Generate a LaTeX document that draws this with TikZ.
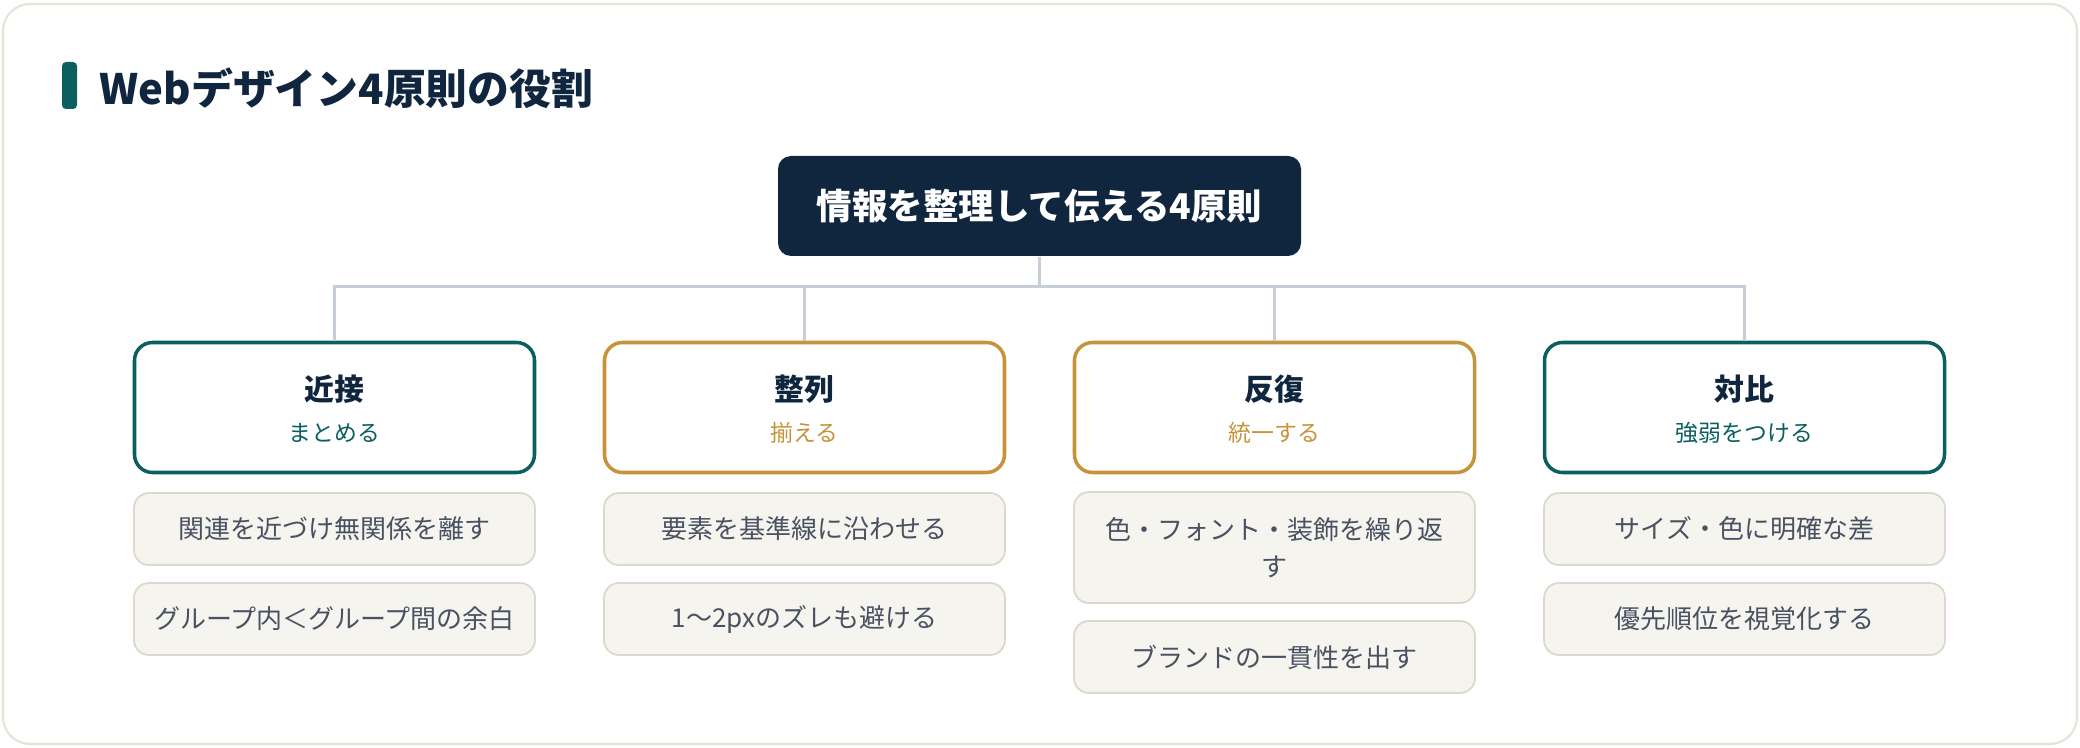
\documentclass[tikz,border=0pt]{standalone}
\usepackage{fontspec}
\setmainfont{Noto Sans CJK JP}
\usetikzlibrary{positioning}

\definecolor{navy}{HTML}{10263F}
\definecolor{tealc}{HTML}{0B5F5E}
\definecolor{gold}{HTML}{C6933A}
\definecolor{linkc}{HTML}{C8CED8}
\definecolor{cardline}{HTML}{E6E3D9}
\definecolor{detfill}{HTML}{F5F4EF}
\definecolor{detline}{HTML}{DCD8CB}
\definecolor{dettext}{HTML}{4A5262}

\begin{document}
\begin{tikzpicture}[
    card/.style={draw=cardline, line width=0.6pt, rounded corners=0.27cm, fill=white},
    root/.style={fill=navy, rounded corners=0.13cm, minimum width=5.23cm, minimum height=1cm,
                 text=white, font=\fontsize{10.1}{12}\selectfont\bfseries},
    principle/.style={draw, line width=1pt, fill=white, rounded corners=0.18cm,
                      minimum width=4.0cm, minimum height=1.3cm, inner sep=0pt},
    head/.style={text=navy, font=\fontsize{8.5}{10}\selectfont\bfseries, inner sep=0pt},
    sub/.style={font=\fontsize{6.5}{8}\selectfont, inner sep=0pt},
    detail/.style={draw=detline, line width=0.5pt, fill=detfill, rounded corners=0.15cm,
                   minimum width=4.01cm, minimum height=0.72cm, text=dettext, align=center,
                   font=\fontsize{7.4}{10.5}\selectfont},
    link/.style={draw=linkc, line width=0.85pt},
  ]
    \useasboundingbox (0,0) rectangle (20.8,-7.48);
    \draw[card] (0.03,-0.04) rectangle (20.77,-7.44);

    % title
    \node[fill=tealc, rounded corners=0.04cm, minimum width=0.15cm, minimum height=0.47cm,
          inner sep=0pt] (bar) at (0.695,-0.855) {};
    \node[anchor=west, inner sep=0pt, text=navy, font=\fontsize{11.9}{14}\selectfont\bfseries]
          (title) at (0.99,-0.88) {Webデザイン4原則の役割};

    % root
    \node[root] (root) at (10.395,-2.06) {情報を整理して伝える4原則};

    % principles
    \node[principle, draw=tealc] (p1) at (3.345,-4.075) {};
    \node[principle, draw=gold]  (p2) at (8.045,-4.075) {};
    \node[principle, draw=gold]  (p3) at (12.745,-4.075) {};
    \node[principle, draw=tealc] (p4) at (17.445,-4.075) {};

    \node[head] (h1) at ([yshift=0.185cm]p1.center) {近接};
    \node[sub, text=tealc] (s1) at ([yshift=-0.255cm]p1.center) {まとめる};
    \node[head] (h2) at ([yshift=0.185cm]p2.center) {整列};
    \node[sub, text=gold] (s2) at ([yshift=-0.255cm]p2.center) {揃える};
    \node[head] (h3) at ([yshift=0.185cm]p3.center) {反復};
    \node[sub, text=gold] (s3) at ([yshift=-0.255cm]p3.center) {統一する};
    \node[head] (h4) at ([yshift=0.185cm]p4.center) {対比};
    \node[sub, text=tealc] (s4) at ([yshift=-0.255cm]p4.center) {強弱をつける};

    % links
    \draw[link] (root.south) -- ++(0,-0.3) coordinate (bus);
    \draw[link] (bus) -| (p1.north);
    \draw[link] (bus) -| (p2.north);
    \draw[link] (bus) -| (p3.north);
    \draw[link] (bus) -| (p4.north);

    % details
    \node[detail] (d11) at (3.345,-5.29) {関連を近づけ無関係を離す};
    \node[detail] (d12) at (3.345,-6.19) {グループ内＜グループ間の余白};
    \node[detail] (d21) at (8.045,-5.29) {要素を基準線に沿わせる};
    \node[detail] (d22) at (8.045,-6.19) {1〜2pxのズレも避ける};
    \node[detail, minimum height=1.11cm] (d31) at (12.745,-5.475) {色・フォント・装飾を繰り返\\す};
    \node[detail] (d32) at (12.745,-6.57) {ブランドの一貫性を出す};
    \node[detail] (d41) at (17.445,-5.29) {サイズ・色に明確な差};
    \node[detail] (d42) at (17.445,-6.19) {優先順位を視覚化する};
  \end{tikzpicture}
\end{document}
